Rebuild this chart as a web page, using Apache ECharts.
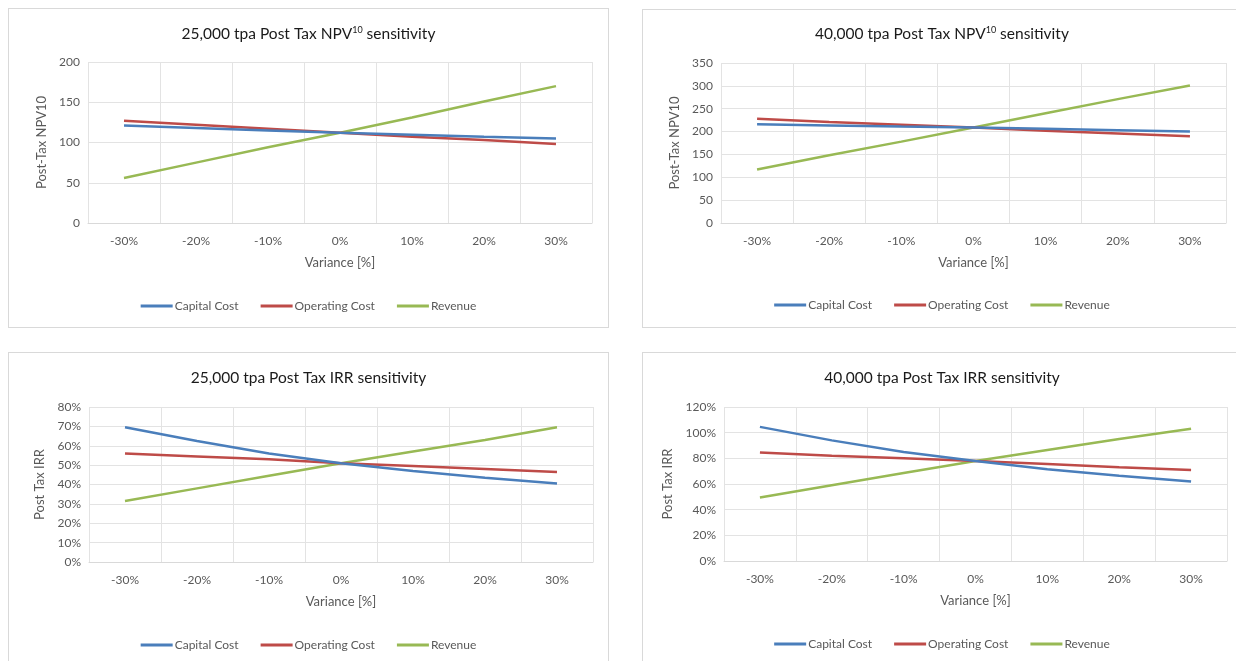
<!DOCTYPE html>
<html>
<head>
<meta charset="utf-8">
<script src="https://cdn.jsdelivr.net/npm/echarts@6/dist/echarts.min.js"></script>
<style>
  html, body { margin: 0; padding: 0; background: #ffffff; width: 1236px; height: 661px; overflow: hidden; }
  .box { position: absolute; border: 1px solid #d9d9d9; background: #fff; box-sizing: border-box; }
</style>
</head>
<body>
<div id="c1" class="box" style="left:8px;top:8px;width:601px;height:320px;"></div>
<div id="c2" class="box" style="left:642px;top:9px;width:600px;height:319px;"></div>
<div id="c3" class="box" style="left:8px;top:352px;width:601px;height:315px;"></div>
<div id="c4" class="box" style="left:642px;top:352px;width:600px;height:315px;"></div>
<script>
// Sensitivity cases on the horizontal axis
const categories = ['-30%', '-20%', '-10%', '0%', '10%', '20%', '30%'];
const seriesNames = ['Capital Cost', 'Operating Cost', 'Revenue'];

// 25,000 tpa post-tax NPV10
const npv25Capital = [121, 118, 115, 112, 109.5, 107, 105];
const npv25Operating = [127, 122, 117, 112, 107, 103, 98];
const npv25Revenue = [56, 75, 94, 112, 131, 151, 170];

// 40,000 tpa post-tax NPV10
const npv40Capital = [216, 213.5, 211, 209, 206, 203, 200];
const npv40Operating = [228, 221, 215, 209, 202, 196, 190];
const npv40Revenue = [117, 148, 178, 209, 240, 271, 301];

// 25,000 tpa post-tax IRR (%)
const irr25Capital = [69.5, 62.5, 56, 51, 47, 43.5, 40.5];
const irr25Operating = [56, 54.5, 53, 51, 49.5, 48, 46.5];
const irr25Revenue = [31.5, 38, 44.5, 51, 57, 63, 69.5];

// 40,000 tpa post-tax IRR (%)
const irr40Capital = [104.5, 94, 85, 78, 71.5, 66.5, 62];
const irr40Operating = [84.5, 82, 80, 78, 75.5, 73, 71];
const irr40Revenue = [49.5, 59, 68.5, 78, 86.5, 95, 103];

const FONT = 'Lato, "Open Sans", "DejaVu Sans", sans-serif';
const colors = ['#4a7ebb', '#be4b48', '#98b954'];

function makeChart(id, cfg) {
  const chart = echarts.init(document.getElementById(id), null, { renderer: 'canvas' });
  const data = [cfg.capital, cfg.operating, cfg.revenue];
  chart.setOption({
    animation: false,
    textStyle: { fontFamily: FONT },
    color: colors,
    title: {
      text: cfg.title,
      left: 'center',
      top: cfg.titleTop,
      textStyle: {
        fontFamily: FONT, fontSize: 15.5, fontWeight: 'normal', color: '#1a1a1a',
        rich: {
          sup: { fontFamily: FONT, fontSize: 9, color: '#1a1a1a', verticalAlign: 'top', lineHeight: 15 }
        }
      }
    },
    legend: {
      data: seriesNames.map(n => ({ name: n, icon: 'rect' })),
      left: 'center',
      top: cfg.legendTop,
      itemWidth: 32,
      itemHeight: 3,
      itemGap: 22,
      textStyle: { fontFamily: FONT, fontSize: 12, color: '#595959', padding: [0, 0, 0, -3] }
    },
    grid: {
      left: cfg.gridLeft, top: cfg.gridTop, width: cfg.gridWidth, height: cfg.gridHeight,
      containLabel: false
    },
    xAxis: {
      type: 'category',
      data: categories,
      boundaryGap: true,
      name: 'Variance [%]',
      nameLocation: 'middle',
      nameGap: 33,
      nameTextStyle: { fontFamily: FONT, fontSize: 13, color: '#595959' },
      axisLine: { show: true, lineStyle: { color: '#d9d9d9', width: 1 } },
      axisTick: { show: false },
      axisLabel: { fontFamily: FONT, fontSize: 12, color: '#595959', margin: 12 },
      splitLine: { show: true, lineStyle: { color: '#e3e3e3', width: 1 } }
    },
    yAxis: {
      type: 'value',
      min: 0,
      max: cfg.yMax,
      interval: cfg.yInterval,
      name: cfg.yName,
      nameLocation: 'middle',
      nameGap: cfg.yNameGap,
      nameTextStyle: { fontFamily: FONT, fontSize: 13, color: '#595959' },
      axisLine: { show: false },
      axisTick: { show: false },
      axisLabel: {
        fontFamily: FONT, fontSize: 12, color: '#595959', margin: 8,
        formatter: cfg.percent ? '{value}%' : '{value}'
      },
      splitLine: { show: true, lineStyle: { color: '#e3e3e3', width: 1 } }
    },
    series: seriesNames.map((name, i) => ({
      name: name,
      type: 'line',
      data: data[i],
      symbol: 'none',
      smooth: false,
      lineStyle: { width: 2.5, color: colors[i] },
      itemStyle: { color: colors[i] },
      z: 3 - i
    }))
  });
}

makeChart('c1', {
  title: '25,000 tpa Post Tax NPV{sup|10} sensitivity', titleTop: 12,
  capital: npv25Capital, operating: npv25Operating, revenue: npv25Revenue,
  yMax: 200, yInterval: 50, yName: 'Post-Tax NPV10', yNameGap: 38, percent: false,
  gridLeft: 79, gridTop: 53, gridWidth: 504, gridHeight: 161, legendTop: 286
});
makeChart('c2', {
  title: '40,000 tpa Post Tax NPV{sup|10} sensitivity', titleTop: 11,
  capital: npv40Capital, operating: npv40Operating, revenue: npv40Revenue,
  yMax: 350, yInterval: 50, yName: 'Post-Tax NPV10', yNameGap: 38, percent: false,
  gridLeft: 78, gridTop: 53, gridWidth: 505, gridHeight: 160, legendTop: 284
});
makeChart('c3', {
  title: '25,000 tpa Post Tax IRR sensitivity', titleTop: 12,
  capital: irr25Capital, operating: irr25Operating, revenue: irr25Revenue,
  yMax: 80, yInterval: 10, yName: 'Post Tax IRR', yNameGap: 38, percent: true,
  gridLeft: 80, gridTop: 54, gridWidth: 504, gridHeight: 155, legendTop: 281
});
makeChart('c4', {
  title: '40,000 tpa Post Tax IRR sensitivity', titleTop: 12,
  capital: irr40Capital, operating: irr40Operating, revenue: irr40Revenue,
  yMax: 120, yInterval: 20, yName: 'Post Tax IRR', yNameGap: 44, percent: true,
  gridLeft: 81, gridTop: 54, gridWidth: 503, gridHeight: 154, legendTop: 280
});
</script>
</body>
</html>
